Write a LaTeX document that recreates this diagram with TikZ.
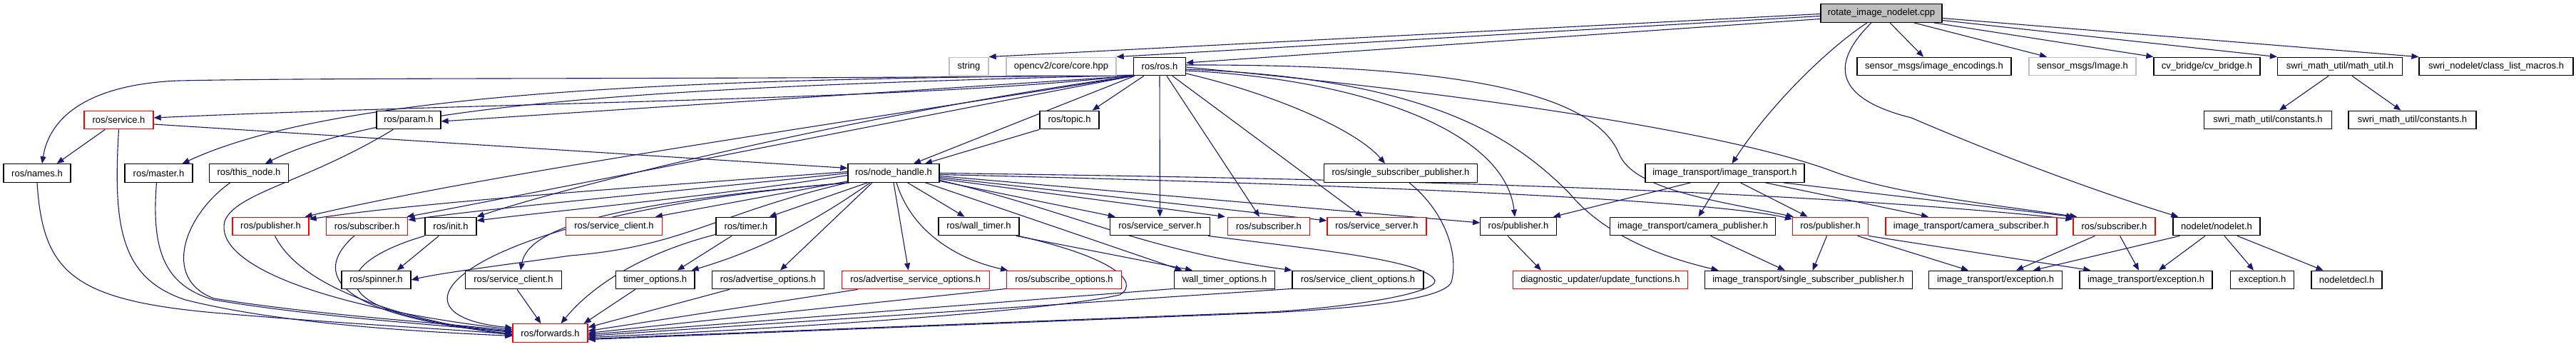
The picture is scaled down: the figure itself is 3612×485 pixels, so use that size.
\documentclass[tikz,border=0pt]{standalone}
\usepackage{fontspec}
\setmainfont{Liberation Sans}
\usetikzlibrary{arrows.meta,calc}
\definecolor{edgeblue}{HTML}{191970}
\definecolor{boxgray}{HTML}{BFBFBF}
\definecolor{boxred}{HTML}{FF0000}
\pgfdeclarelayer{bg}
\pgfsetlayers{bg,main}
\begin{document}
\begin{tikzpicture}[x=1pt,y=-1pt,
  bx/.style={draw=black,line width=1.3pt,fill=white,minimum height=25.5pt,inner sep=0pt,font=\fontsize{13}{15}\selectfont},
  rbx/.style={bx,draw=boxred},
  gbx/.style={bx,draw=boxgray},
  rootbx/.style={bx,fill=boxgray},
  dep/.style={draw=edgeblue,line width=1.1pt,-{Triangle[length=10pt,width=8pt]}}]
\useasboundingbox (0,0) rectangle (3612,485);
% row 0
\node[rootbx,minimum width=170pt] (root) at (2638,18.5) {rotate\_image\_nodelet.cpp};
% row 1
\node[gbx,minimum width=55pt] (str) at (1358.5,93) {string};
\node[gbx,minimum width=154pt] (ocv) at (1488,93) {opencv2/core/core.hpp};
\node[bx,minimum width=73pt] (ros) at (1626,93) {ros/ros.h};
\node[bx,minimum width=216pt] (enc) at (2712,93) {sensor\_msgs/image\_encodings.h};
\node[gbx,minimum width=150pt] (img) at (2920,93) {sensor\_msgs/Image.h};
\node[bx,minimum width=149pt] (cvb) at (3094.5,93) {cv\_bridge/cv\_bridge.h};
\node[bx,minimum width=175pt] (mu) at (3281,93) {swri\_math\_util/math\_util.h};
\node[bx,minimum width=216pt] (clm) at (3500,93) {swri\_nodelet/class\_list\_macros.h};
% row 2
\node[rbx,minimum width=97pt] (srv) at (166.5,168) {ros/service.h};
\node[bx,minimum width=90pt] (prm) at (573,168) {ros/param.h};
\node[bx,minimum width=83pt] (top) at (1499.5,168) {ros/topic.h};
\node[bx,minimum width=179pt] (c1) at (3180,168) {swri\_math\_util/constants.h};
\node[bx,minimum width=179pt] (c2) at (3382.5,168) {swri\_math\_util/constants.h};
% row 3
\node[bx,minimum width=94pt] (nam) at (52,242.5) {ros/names.h};
\node[bx,minimum width=95pt] (mas) at (222.5,242.5) {ros/master.h};
\node[bx,minimum width=111pt] (thn) at (349,242.5) {ros/this\_node.h};
\node[bx,minimum width=128pt] (nh) at (1253,242.5) {ros/node\_handle.h};
\node[bx,minimum width=215pt] (ssp) at (1964,242.5) {ros/single\_subscriber\_publisher.h};
\node[bx,minimum width=223pt] (itr) at (2418.5,242.5) {image\_transport/image\_transport.h};
% row 4
\node[rbx,minimum width=107pt] (pubL) at (379.5,317) {ros/publisher.h};
\node[rbx,minimum width=114pt] (subL) at (514.7,317) {ros/subscriber.h};
\node[bx,minimum width=72pt] (ini) at (632,317) {ros/init.h};
\node[rbx,minimum width=134.5pt] (sclR) at (861,317) {ros/service\_client.h};
\node[bx,minimum width=84pt] (tim) at (1046,317) {ros/timer.h};
\node[bx,minimum width=113pt] (wtm) at (1372.5,317) {ros/wall\_timer.h};
\node[bx,minimum width=140pt] (ssB) at (1626.4,317) {ros/service\_server.h};
\node[rbx,minimum width=115pt] (subM) at (1779,317) {ros/subscriber.h};
\node[rbx,minimum width=139pt] (ssR) at (1930.4,317) {ros/service\_server.h};
\node[bx,minimum width=106.4pt] (pubB) at (2129,317) {ros/publisher.h};
\node[bx,minimum width=232pt] (cpub) at (2373.5,317) {image\_transport/camera\_publisher.h};
\node[rbx,minimum width=106pt] (pubR) at (2566.5,317) {ros/publisher.h};
\node[rbx,minimum width=240pt] (csub) at (2764,317) {image\_transport/camera\_subscriber.h};
\node[rbx,minimum width=115pt] (subR) at (2964.5,317) {ros/subscriber.h};
\node[bx,minimum width=122pt] (nlt) at (3108,317) {nodelet/nodelet.h};
% row 5
\node[bx,minimum width=97pt] (spn) at (527.5,392) {ros/spinner.h};
\node[bx,minimum width=135pt] (sclB) at (720,392) {ros/service\_client.h};
\node[bx,minimum width=110.7pt] (tmo) at (918.7,392) {timer\_options.h};
\node[bx,minimum width=157pt] (ado) at (1077,392) {ros/advertise\_options.h};
\node[rbx,minimum width=207pt] (aso) at (1283.7,392) {ros/advertise\_service\_options.h};
\node[rbx,minimum width=160.6pt] (sbo) at (1492,392) {ros/subscribe\_options.h};
\node[bx,minimum width=141.6pt] (wto) at (1717,392) {wall\_timer\_options.h};
\node[bx,minimum width=184pt] (sco) at (1904,392) {ros/service\_client\_options.h};
\node[rbx,minimum width=245.6pt] (diag) at (2244,392) {diagnostic\_updater/update\_functions.h};
\node[bx,minimum width=291pt] (itssp) at (2535.7,392) {image\_transport/single\_subscriber\_publisher.h};
\node[bx,minimum width=186.6pt] (ex1) at (2798,392) {image\_transport/exception.h};
\node[bx,minimum width=186pt] (ex2) at (3009,392) {image\_transport/exception.h};
\node[bx,minimum width=89.4pt] (exc) at (3172,392) {exception.h};
\node[bx,minimum width=99pt] (ndc) at (3290.6,392) {nodeletdecl.h};
% row 6
\node[rbx,minimum width=105pt] (fwd) at (771.5,466.5) {ros/forwards.h};

\begin{pgfonlayer}{bg}
\fill[white] (0,0) rectangle (3612,485);
% root
\draw[dep] ($(root.west)+(0,1)$) -- (str.north east);
\draw[dep] ($(root.west)+(0,4)$) -- (ocv.north east);
\draw[dep] ($(root.west)+(0,8)$) -- ($(ros.east)+(0,-5)$);
\draw[dep] ($(root.south)+(12,0)$) -- ($(enc.north)+(-15,0)$);
\draw[dep] ($(root.south east)+(-40,0)$) -- ($(img.north)+(-50,0)$);
\draw[dep] ($(root.south east)+(-12,0)$) -- (cvb.north west);
\draw[dep] ($(root.east)+(0,10)$) -- (mu.north west);
\draw[dep] ($(root.east)+(0,7)$) -- (clm.north west);
\draw[dep] ($(root.south)+(-20,0)$) .. controls (2560,70) and (2480,150) .. ($(itr.north)+(10,0)$);
\draw[dep] ($(root.south)+(-14,0)$) .. controls (2560,95) and (2580,140) .. (2680,165) .. controls (2820,225) and (2960,275) .. ($(nlt.north west)+(8,0)$);
\draw[dep] ($(mu.south)+(-16,0)$) -- ($(c1.north)+(16,0)$);
\draw[dep] ($(mu.south)+(17,0)$) -- ($(c2.north)+(-16,0)$);
% ros.h to the left
\draw[dep] ($(ros.south west)+(0,-1)$) .. controls (1000,112) and (500,108) .. (250,113) .. controls (130,118) and (70,160) .. ($(nam.north)+(7,0)$);
\draw[dep] ($(ros.south west)+(0,-1)$) .. controls (1300,140) and (700,143) .. ($(srv.east)+(0,-3)$);
\draw[dep] ($(ros.south west)+(0,-1)$) .. controls (1000,110) and (480,125) .. ($(mas.north east)+(-15,0)$);
\draw[dep] ($(ros.south west)+(0,-1)$) .. controls (1000,120) and (550,140) .. ($(thn.north)+(23,0)$);
\draw[dep] (ros.south west) -- ($(prm.east)+(0,2)$);
\draw[dep] ($(ros.south west)+(15,0)$) -- ($(top.north east)+(-10,0)$);
\draw[dep] ($(ros.south west)+(2,0)$) -- ($(nh.north)+(28,0)$);
\draw[dep] (top.south west) -- ($(nh.north)+(44,0)$);
\draw[dep] (ros.south west) .. controls (1200,170) and (700,240) .. ($(pubL.north east)+(-6,0)$);
\draw[dep] (ros.south west) .. controls (1200,180) and (700,280) .. ($(subL.north east)+(-2,0)$);
\draw[dep] (ros.south west) .. controls (1200,160) and (800,260) .. (ini.north east);
% ros.h down and right
\draw[dep] (ros.south) -- (ssB.north);
\draw[dep] ($(ros.south)+(10,0)$) -- ($(subM.north)+(-13,0)$);
\draw[dep] ($(ros.south)+(18,0)$) -- ($(ssR.north)+(-20,0)$);
\draw[dep] ($(ros.east)+(0,10)$) .. controls (1780,130) and (1900,180) .. ($(ssp.north)+(-22,0)$);
\draw[dep] ($(ros.east)+(0,6)$) .. controls (1900,110) and (2110,180) .. ($(pubB.north)+(-5,0)$);
\draw[dep] ($(ros.east)+(0,4)$) .. controls (2000,110) and (2120,190) .. (2200,270) .. controls (2250,330) and (2330,360) .. ($(itssp.north west)+(20,0)$);
\draw[dep] ($(ros.east)+(0,-2)$) .. controls (2000,90) and (2230,120) .. (2270,215) .. controls (2290,265) and (2400,280) .. ($(pubR.north west)+(2,0)$);
\draw[dep] ($(ros.east)+(0,1)$) .. controls (2150,140) and (2450,195) .. (2570,240) .. controls (2650,270) and (2780,285) .. ($(subR.north west)+(6,0)$);
% node_handle
\draw[dep] ($(nh.west)+(0,-2)$) .. controls (900,262) and (600,282) .. ($(pubL.east)+(0,-10)$);
\draw[dep] (nh.west) .. controls (950,268) and (700,290) .. ($(subL.east)+(0,-9)$);
\draw[dep] ($(nh.west)+(0,3)$) .. controls (1000,275) and (780,295) .. ($(ini.east)+(0,-8)$);
\draw[dep] ($(nh.south west)+(0,-2)$) -- ($(sclR.north east)+(-10,0)$);
\draw[dep] ($(nh.south west)+(28,0)$) -- ($(tim.north east)+(-10,0)$);
\draw[dep] (nh.south west) .. controls (1000,300) and (960,345) .. (800,358) .. controls (700,372) and (620,382) .. (spn.east);
\draw[dep] (nh.south west) .. controls (850,285) and (740,320) .. ($(sclB.north)+(10,0)$);
\draw[dep] ($(nh.south west)+(3,0)$) .. controls (650,300) and (520,440) .. ($(fwd.north west)+(0,6)$);
\draw[dep] ($(nh.south)+(-33,0)$) .. controls (1130,320) and (1050,355) .. ($(tmo.north east)+(-5,0)$);
\draw[dep] ($(nh.south)+(-30,0)$) -- ($(ado.north)+(17,0)$);
\draw[dep] (nh.south) -- ($(aso.north)+(-10,0)$);
\draw[dep] ($(nh.south)+(4,0)$) .. controls (1280,330) and (1350,365) .. ($(sbo.north west)+(2,0)$);
\draw[dep] ($(nh.south east)+(-45,0)$) -- ($(wtm.north)+(-20,0)$);
\draw[dep] ($(nh.south east)+(-20,0)$) -- ($(wto.north west)+(12,0)$);
\draw[dep] ($(nh.east)+(0,10)$) .. controls (1500,295) and (1600,350) .. (sco.north west);
\draw[dep] ($(nh.east)+(0,11)$) -- ($(ssB.north west)+(8,0)$);
\draw[dep] ($(nh.east)+(0,8)$) -- ($(subM.north west)+(-3,0)$);
\draw[dep] ($(nh.east)+(0,6)$) -- ($(ssR.west)+(0,-8)$);
\draw[dep] ($(nh.east)+(0,4)$) -- ($(pubB.west)+(0,-5)$);
\draw[dep] ($(nh.east)+(0,2)$) .. controls (1900,258) and (2400,280) .. ($(pubR.west)+(0,-10)$);
\draw[dep] (nh.east) .. controls (1900,250) and (2500,265) .. ($(subR.west)+(0,-10)$);
% other
\draw[dep] ($(srv.south west)+(30,0)$) -- ($(nam.north east)+(-20,0)$);
\draw[dep] ($(srv.east)+(0,6)$) -- ($(nh.west)+(0,-7)$);
\draw[dep] ($(ini.south west)+(20,0)$) -- ($(spn.north east)+(-20,0)$);
\draw[dep] ($(tim.south)+(-20,0)$) -- ($(tmo.north east)+(-25,0)$);
\draw[dep] ($(wtm.south east)+(-5,0)$) -- ($(wto.north)+(-45,0)$);
\draw[dep] ($(pubB.south)+(-15,0)$) -- ($(diag.north)+(-83,0)$);
\draw[dep] ($(itr.south)+(-48,0)$) -- ($(pubB.north east)+(-5,0)$);
\draw[dep] ($(itr.south)+(-8,0)$) -- ($(cpub.north)+(8,0)$);
\draw[dep] ($(itr.south)+(22,0)$) -- ($(pubR.north)+(-32,0)$);
\draw[dep] ($(itr.south)+(57,0)$) -- ($(csub.north)+(-60,0)$);
\draw[dep] ($(itr.south east)+(-30,0)$) -- ($(subR.north west)+(1,0)$);
\draw[dep] ($(cpub.south)+(25,0)$) -- ($(itssp.north)+(-33,0)$);
\draw[dep] ($(pubR.south)+(-5,0)$) -- ($(itssp.north)+(6,0)$);
\draw[dep] ($(pubR.south)+(38,0)$) -- ($(ex1.north)+(-38,0)$);
\draw[dep] (pubR.south east) -- ($(ex2.north west)+(16,0)$);
\draw[dep] ($(subR.south)+(-27,0)$) -- ($(ex1.north)+(29,0)$);
\draw[dep] ($(subR.south)+(8,0)$) -- ($(ex2.north)+(-10,0)$);
\draw[dep] ($(nlt.south west)+(10,0)$) -- ($(ex1.north)+(53,0)$);
\draw[dep] ($(nlt.south)+(-16,0)$) -- ($(ex2.north)+(18,0)$);
\draw[dep] ($(nlt.south)+(11,0)$) -- ($(exc.north)+(-12,0)$);
\draw[dep] ($(nlt.south)+(29,0)$) -- ($(ndc.north west)+(17,0)$);
% into forwards
\draw[dep] (nam.south) .. controls (60,380) and (100,420) .. (300,438) .. controls (500,455) and (650,462) .. ($(fwd.west)+(0,2)$);
\draw[dep] (srv.south) .. controls (158,320) and (170,390) .. (260,420) .. controls (400,455) and (600,465) .. ($(fwd.west)+(0,4)$);
\draw[dep] ($(mas.south)+(-3,0)$) .. controls (212,350) and (230,400) .. (300,420) .. controls (450,445) and (620,455) .. ($(fwd.west)+(0,-1)$);
\draw[dep] ($(thn.south west)+(30,0)$) .. controls (260,300) and (225,390) .. (300,418) .. controls (450,442) and (620,452) .. ($(fwd.west)+(0,-3)$);
\draw[dep] ($(prm.south west)+(24,0)$) .. controls (430,255) and (330,270) .. (315,310) .. controls (300,370) and (450,430) .. ($(fwd.west)+(0,-5)$);
\draw[dep] ($(pubL.south)+(6,0)$) .. controls (420,400) and (550,445) .. ($(fwd.west)+(0,3)$);
\draw[dep] ($(subL.south)+(-18,0)$) .. controls (440,380) and (460,440) .. ($(fwd.west)+(0,1)$);
\draw[dep] (ini.south west) .. controls (460,370) and (440,440) .. ($(fwd.west)+(0,-2)$);
\draw[dep] ($(sclB.south)+(5,0)$) -- ($(fwd.north)+(-13,0)$);
\draw[dep] ($(tim.south west)+(0,-2)$) .. controls (900,355) and (830,400) .. ($(fwd.north)+(15,0)$);
\draw[dep] ($(tmo.south west)+(28,0)$) -- ($(fwd.north east)+(-6,0)$);
\draw[dep] ($(ado.south west)+(25,0)$) -- ($(fwd.east)+(0,-8)$);
\draw[dep] ($(aso.south west)+(23,0)$) -- ($(fwd.east)+(0,-3)$);
\draw[dep] ($(sbo.south west)+(0,-1)$) -- (fwd.east);
\draw[dep] ($(wto.south west)+(0,-1)$) -- ($(fwd.east)+(0,2)$);
\draw[dep] ($(sco.south west)+(0,-1)$) -- ($(fwd.east)+(0,4)$);
\draw[dep] ($(wtm.south east)+(-2,0)$) .. controls (1560,360) and (1600,395) .. (1570,413) .. controls (1450,440) and (1000,465) .. ($(fwd.east)+(0,6)$);
\draw[dep] ($(ssB.south east)+(-3,0)$) .. controls (1850,350) and (2000,365) .. (2012,393) .. controls (2014,410) and (1900,430) .. (1780,437) -- ($(fwd.east)+(0,8)$);
\draw[dep] ($(ssp.south)+(12,0)$) .. controls (2030,300) and (2045,360) .. (2035,395) .. controls (2025,420) and (1900,432) .. (1780,438) -- ($(fwd.east)+(0,9)$);
\end{pgfonlayer}
\end{tikzpicture}
\end{document}
